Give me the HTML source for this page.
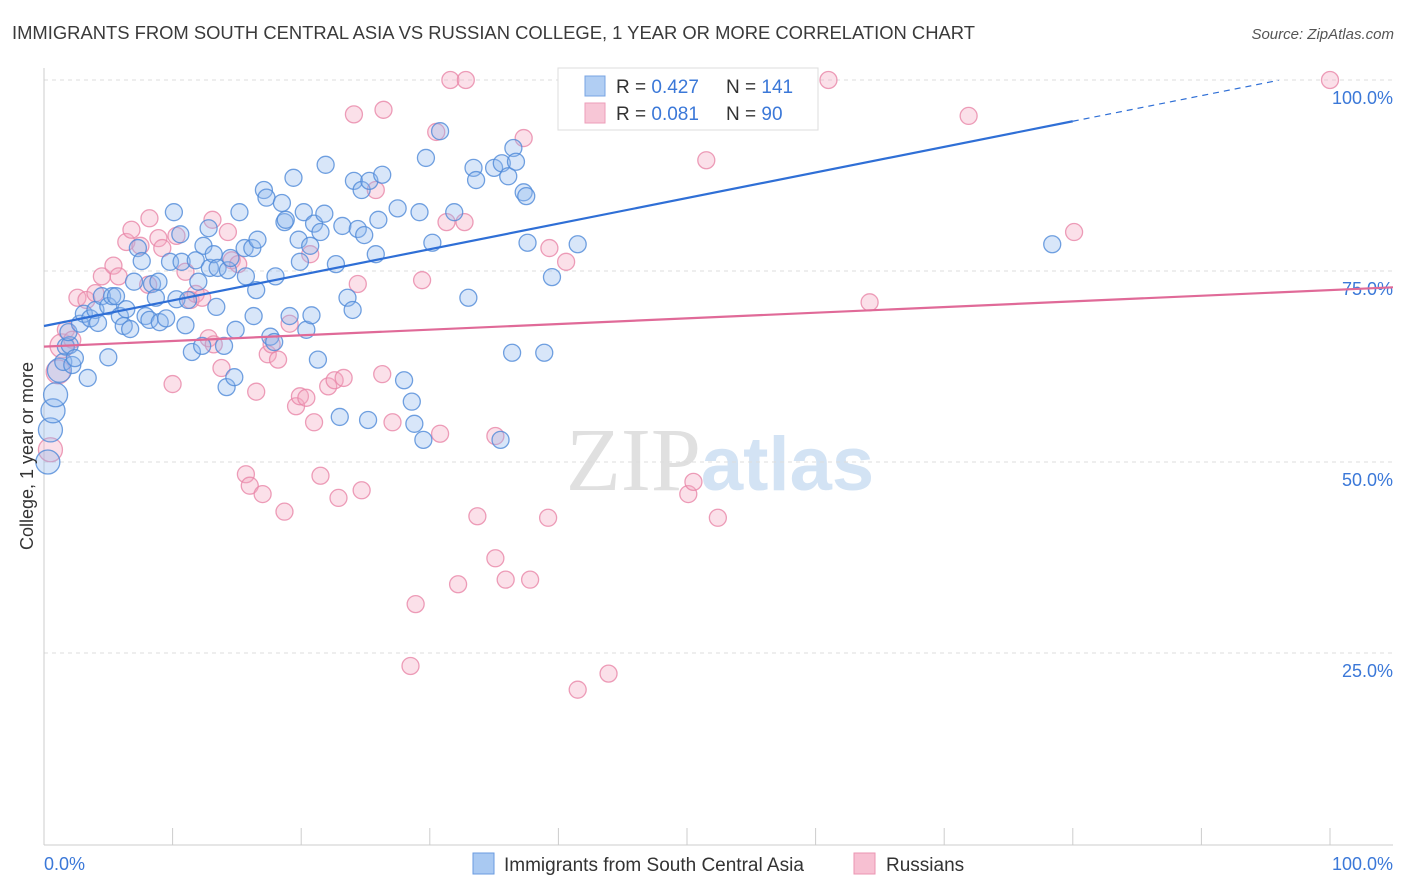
<!DOCTYPE html>
<html><head><meta charset="utf-8"><style>
body{margin:0;background:#fff;font-family:"Liberation Sans",sans-serif;}
svg{display:block}
</style></head><body>
<svg id="chart" width="1406" height="892" xmlns="http://www.w3.org/2000/svg" font-family="Liberation Sans, sans-serif">
<text x="12" y="39" font-size="18.4" fill="#3a3a3a">IMMIGRANTS FROM SOUTH CENTRAL ASIA VS RUSSIAN COLLEGE, 1 YEAR OR MORE CORRELATION CHART</text>
<text x="1394" y="39" font-size="15" fill="#555" font-style="italic" text-anchor="end">Source: ZipAtlas.com</text>
<text x="720" y="490" font-size="90" text-anchor="middle"><tspan fill="#e0e0e0" font-family="Liberation Serif, serif">ZIP</tspan><tspan fill="#d3e3f4" font-weight="bold" font-size="76">atlas</tspan></text>
<g id="grid"></g>
<g id="axes"></g>
<g id="pink-points"></g>
<g id="blue-points"></g>
<g id="trends"></g>
<text transform="translate(33,456) rotate(-90)" font-size="18" fill="#333" text-anchor="middle">College, 1 year or more</text>
<g>
<rect x="558" y="68" width="260" height="62" fill="#fff" stroke="#ddd"/>
<rect x="585" y="76" width="20" height="20" fill="#a9c9f2" stroke="#6a9be0" opacity="0.9"/>
<text x="616" y="93" font-size="19" fill="#333">R = <tspan fill="#3b78d8">0.427</tspan><tspan x="726">N = </tspan><tspan fill="#3b78d8">141</tspan></text>
<rect x="585" y="103" width="20" height="20" fill="#f7c0d2" stroke="#eb94b2" opacity="0.9"/>
<text x="616" y="120" font-size="19" fill="#333">R = <tspan fill="#3b78d8">0.081</tspan><tspan x="726">N = </tspan><tspan fill="#3b78d8">90</tspan></text>
</g>
<g>
<rect x="473" y="853" width="21" height="21" fill="#a9c9f2" stroke="#6a9be0"/>
<text x="504" y="871" font-size="19" fill="#333">Immigrants from South Central Asia</text>
<rect x="854" y="853" width="21" height="21" fill="#f7c0d2" stroke="#eb94b2"/>
<text x="886" y="871" font-size="19" fill="#333">Russians</text>
</g>
</svg>
<script>
const yTicks=[25,50,75,100];
const yTickLabels=["25.0%","50.0%","75.0%","100.0%"];
const xTicks=[0,10,20,30,40,50,60,70,80,90,100];
const xEndLabels=["0.0%","100.0%"];
const blueTrend=[67.8,0.335];
const pinkTrend=[65.1,0.074];
const blueX=[0.3,0.5,0.7,0.9,1.2,1.5,1.7,2.0,1.9,2.2,2.4,3.4,2.8,3.1,3.6,4.0,4.2,4.5,5.0,5.0,5.3,5.6,5.9,6.2,6.4,6.7,7.0,7.3,7.6,7.9,8.2,8.4,8.7,8.9,9.0,9.5,9.8,10.1,10.3,10.6,10.7,11.0,11.2,11.5,11.8,12.0,12.3,12.4,12.8,12.9,13.2,13.4,13.5,14.0,14.2,14.3,14.5,14.8,14.9,15.2,15.6,15.7,16.2,16.3,16.5,16.6,17.1,17.3,17.6,17.9,18.0,18.5,18.7,18.8,19.1,19.4,19.8,19.9,20.2,20.4,20.7,20.8,21.0,21.3,21.5,21.8,21.9,22.7,23.0,23.2,23.6,24.0,24.1,24.4,24.7,24.9,25.2,25.3,25.8,26.0,26.3,27.5,28.0,28.6,28.8,29.2,29.5,29.7,30.2,30.8,31.9,33.0,33.4,33.6,35.0,35.5,35.6,36.1,36.4,36.5,36.7,37.3,37.5,37.6,38.9,39.5,41.5,78.4];
const blueY=[50.0,54.2,56.7,58.8,62.0,63.1,65.1,65.3,67.0,62.7,63.6,61.0,68.1,69.4,68.8,69.9,68.2,71.7,63.7,70.4,71.7,71.7,69.1,67.8,70.0,67.4,73.6,78.0,76.3,69.1,68.6,73.3,71.5,73.6,68.3,68.8,76.2,82.7,71.3,79.8,76.2,67.9,71.2,64.4,76.4,73.6,65.2,78.3,80.6,75.4,77.2,70.3,75.4,65.2,59.8,75.1,76.7,61.1,67.3,82.7,78.0,74.3,78.0,69.1,72.5,79.1,85.6,84.6,66.4,65.7,74.3,83.9,81.4,81.7,69.1,87.2,79.1,76.2,82.7,67.3,78.3,69.2,81.2,63.4,80.1,82.5,88.9,75.9,55.9,80.9,71.5,69.9,86.8,80.5,85.6,79.7,55.5,86.8,77.2,81.7,87.6,83.2,60.7,57.9,55.0,82.7,52.9,89.8,78.7,93.3,82.7,71.5,88.5,86.9,88.5,52.9,89.1,87.4,64.3,91.1,89.3,85.3,84.8,78.7,64.3,74.2,78.5,78.5];
const pinkX=[0.5,1.1,1.4,1.7,2.2,2.6,3.3,4.0,4.5,5.4,5.8,6.4,6.8,7.5,8.1,8.2,8.9,9.2,10.0,10.3,11.0,11.4,11.8,12.3,12.8,13.1,13.2,13.8,14.3,14.6,15.1,15.7,16.0,16.5,17.0,17.4,17.7,18.2,18.7,19.1,19.6,19.9,20.4,20.7,21.0,21.5,22.1,22.6,22.9,23.3,24.1,24.4,24.7,25.8,26.3,26.4,27.1,28.5,28.9,29.4,30.5,30.8,31.3,31.6,32.2,32.7,32.8,33.7,35.1,35.1,35.9,37.3,37.8,39.2,39.3,40.6,41.5,43.9,50.1,50.5,51.5,52.4,59.4,61.0,64.2,71.9,80.1,100];
const pinkY=[51.6,61.8,65.2,67.3,66.0,71.5,71.2,72.1,74.3,75.7,74.3,78.8,80.4,78.3,73.2,81.9,79.3,78.0,60.2,79.6,74.9,71.2,72.0,71.5,66.2,81.7,65.4,62.3,80.1,76.4,75.9,48.4,46.9,59.2,45.8,64.1,65.4,63.4,43.5,68.1,57.3,58.6,58.4,77.2,55.2,48.2,59.9,60.7,45.3,61.0,95.5,73.3,46.3,85.6,61.5,96.1,55.2,23.3,31.4,73.8,93.2,53.7,81.4,100,34.0,81.4,100,42.9,53.4,37.4,34.6,92.4,34.6,42.7,78.0,76.2,20.2,22.3,45.8,47.4,89.5,42.7,100,100,70.9,95.3,80.1,100];

const NS="http://www.w3.org/2000/svg";
const X0=44,X1=1330,Y0=844,Y100=80;
const sx=v=>X0+(X1-X0)*v/100;
const sy=v=>Y0-(Y0-Y100)*v/100;
function mk(tag,attrs,parent){const e=document.createElementNS(NS,tag);for(const k in attrs)e.setAttribute(k,attrs[k]);parent.appendChild(e);return e;}
const grid=document.getElementById('grid'),axes=document.getElementById('axes');
yTicks.forEach((t,i)=>{
  const l=mk('line',{x1:X0,x2:1393,y1:sy(t),y2:sy(t),stroke:'#ddd','stroke-dasharray':'4,4'},grid);
  
  
  const tx=mk('text',{x:1393,y:sy(t)+24,'font-size':18,fill:'#3b78d8','text-anchor':'end'},grid);
  tx.textContent=yTickLabels[i];
  
  
});
const ya=mk('line',{x1:X0,x2:X0,y1:68,y2:845,stroke:'#ccc'},axes);


const xa=mk('line',{x1:X0,x2:1393,y1:845,y2:845,stroke:'#ccc'},axes);


xTicks.forEach(t=>{
  const l=mk('line',{x1:sx(t),x2:sx(t),y1:828,y2:845,stroke:'#ccc'},axes);
  
  
});
const xl0=mk('text',{x:44,y:870,'font-size':18,fill:'#3b78d8'},axes);xl0.textContent=xEndLabels[0];


const xl1=mk('text',{x:1393,y:870,'font-size':18,fill:'#3b78d8','text-anchor':'end'},axes);xl1.textContent=xEndLabels[1];


function pts(xs,ys,g,fill,stroke,name){
  xs.forEach((x,i)=>{
    const r=(x<1.5)?12:8.5;
    const c=mk('circle',{cx:sx(x),cy:sy(ys[i]),r:r,fill:fill,'fill-opacity':0.35,stroke:stroke,'stroke-width':1.3,'stroke-opacity':0.8},g);
    
    
  });
}
pts(pinkX,pinkY,document.getElementById('pink-points'),'#f4a6c0','#e886a8','russians-point');
pts(blueX,blueY,document.getElementById('blue-points'),'#8fb8ee','#4f8ad8','immigrants-point');
const tr=document.getElementById('trends');
const f=(t,x)=>t[0]+t[1]*x;
const b1=mk('line',{x1:sx(0),y1:sy(f(blueTrend,0)),x2:sx(80),y2:sy(f(blueTrend,80)),stroke:'#2f6fd6','stroke-width':2.2},tr);


const b2=mk('line',{x1:sx(80),y1:sy(f(blueTrend,80)),x2:sx(96),y2:sy(f(blueTrend,96)),stroke:'#2f6fd6','stroke-width':1.2,'stroke-dasharray':'6,5'},tr);


const p1=mk('line',{x1:sx(0),y1:sy(f(pinkTrend,0)),x2:1393,y2:sy(f(pinkTrend,(1393-X0)/(X1-X0)*100)),stroke:'#e06a98','stroke-width':2.2},tr);


</script>
</body></html>
